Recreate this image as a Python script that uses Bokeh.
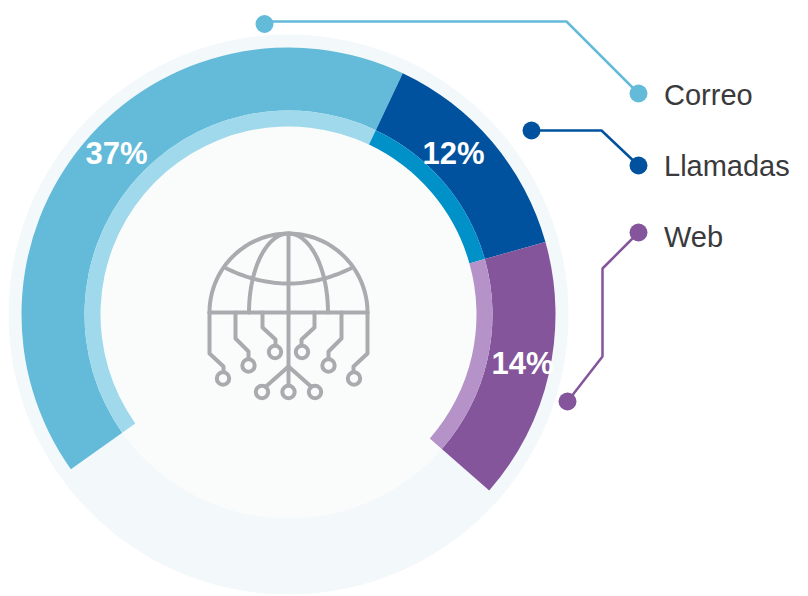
import numpy as np
from bokeh.core.properties import value
from bokeh.embed import file_html
from bokeh.models import ColumnDataSource, Range1d
from bokeh.plotting import figure
from bokeh.resources import INLINE

# Contact channels and their shares
categories = ["Correo", "Llamadas", "Web"]
shares = [37, 12, 14]
share_labels = ["37%", "12%", "14%"]

# Colours per channel: main band, thin inner band
band_colors = ["#63BBD9", "#00529F", "#84559B"]
inner_colors = ["#9FD9EB", "#0091C9", "#B592C7"]

WIDTH, HEIGHT = 808, 596
CX, CY = 288, 314
R_BACK, R_OUT, R_MID, R_IN = 280, 267, 204, 188
START_CW = -125.4      # where the first band starts, degrees clockwise from 12 o'clock
DEG_PER_SHARE = 4.074  # sweep per percentage point


def Y(y):
    """Page-style y (downward) to the upward data axis."""
    return HEIGHT - y


p = figure(width=WIDTH, height=HEIGHT, output_backend="svg", toolbar_location=None,
           x_range=Range1d(0, WIDTH), y_range=Range1d(0, HEIGHT),
           min_border=0, outline_line_color=None, background_fill_color="white",
           border_fill_color="white")
p.axis.visible = False
p.grid.visible = False

# Backing discs
p.circle([CX], [Y(CY)], radius=R_BACK, fill_color="#F3F8FB", line_color=None)
p.circle([CX], [Y(CY)], radius=R_MID, fill_color="#FAFCFC", line_color=None)

# Bands, swept clockwise from the share values
edges = START_CW + DEG_PER_SHARE * np.concatenate([[0], np.cumsum(shares)])
starts = np.radians(90 - edges[:-1])
ends = np.radians(90 - edges[1:])
source = ColumnDataSource(dict(start=starts, end=ends, band=band_colors, inner=inner_colors,
                               x=[CX] * 3, y=[Y(CY)] * 3))
p.annular_wedge("x", "y", inner_radius=R_MID, outer_radius=R_OUT, start_angle="start",
                end_angle="end", direction="clock", fill_color="band", line_color=None,
                source=source)
p.annular_wedge("x", "y", inner_radius=R_IN, outer_radius=R_MID, start_angle="start",
                end_angle="end", direction="clock", fill_color="inner", line_color=None,
                source=source)

# Share labels
label_x = [116, 453, 522]
label_mid = [153, 153, 363]
p.text(label_x, [Y(v) for v in label_mid], text=share_labels, text_color="white",
       text_font=value("Liberation Sans"), text_font_style="bold", text_font_size="31px",
       text_align="center", text_baseline="middle")

# Leader lines with a dot at each end, and the channel names
leaders = [
    [(264, 21), (566, 21), (638, 93)],
    [(531, 130), (601, 130), (638, 165)],
    [(638, 232), (602, 268), (602, 356), (567, 401)],
]
far_dots = [(264, 23.5), (531, 130), (567, 401)]
near_dots = [(638, 93), (638, 165), (638, 232)]
name_mid = [94, 165, 236]
for path, far, near, color in zip(leaders, far_dots, near_dots, band_colors):
    p.line([q[0] for q in path], [Y(q[1]) for q in path], line_color=color, line_width=2.5)
    p.circle([far[0], near[0]], [Y(far[1]), Y(near[1])], radius=9, fill_color=color, line_color=None)
p.text([663.5] * 3, [Y(v) for v in name_mid], text=categories, text_color="#3A3A3C",
       text_font=value("Liberation Sans"), text_font_size="29px",
       text_align="left", text_baseline="middle")

# Globe with circuit traces in the middle of the ring
GREY = "#A9ABAE"
ICON_W = 4
GX, GY, GR = 288, 312, 79


def stroke(points):
    p.line([q[0] for q in points], [Y(q[1]) for q in points], line_color=GREY,
           line_width=ICON_W, line_join="round", line_cap="round")


t = np.linspace(0, np.pi, 80)
stroke(list(zip(GX - GR * np.cos(t), GY - GR * np.sin(t))))            # dome
t2 = np.linspace(0, np.pi, 60)
stroke(list(zip(GX - 39.5 * np.cos(t2), GY - GR * np.sin(t2))))        # meridians
stroke([(GX - GR, GY), (GX + GR, GY)])                                 # equator
stroke([(GX, GY - GR), (GX, 366)])                                     # central axis
u = np.linspace(-1, 1, 40)
stroke(list(zip(GX + 62 * u, 283 - 15 * u ** 2)))                      # parallel

# Traces come in mirrored pairs about the central axis
traces = [
    ([(-79, 312), (-79, 353), (-65, 366), (-65, 372)], (-65.5, 378)),
    ([(-53, 312), (-53, 338), (-40, 351), (-40, 358)], (-40, 365)),
    ([(-26, 312), (-26, 327), (-13, 339), (-13, 345)], (-13.5, 351.5)),
]
knob_x, knob_y = [], []
for pts, knob in traces:
    for side in (-1, 1):
        stroke([(GX - side * q[0], q[1]) for q in pts])
        knob_x.append(GX - side * knob[0])
        knob_y.append(Y(knob[1]))
for dx in (-26.5, 0, 26.5):
    stroke([(GX, 366), (GX + dx * 0.85, 386)])
    knob_x.append(GX + dx)
    knob_y.append(Y(391.5))
p.circle(knob_x, knob_y, radius=6.2, fill_color="#FAFCFC", line_color=GREY, line_width=ICON_W)

open("out.html", "w").write(file_html(p, INLINE))
